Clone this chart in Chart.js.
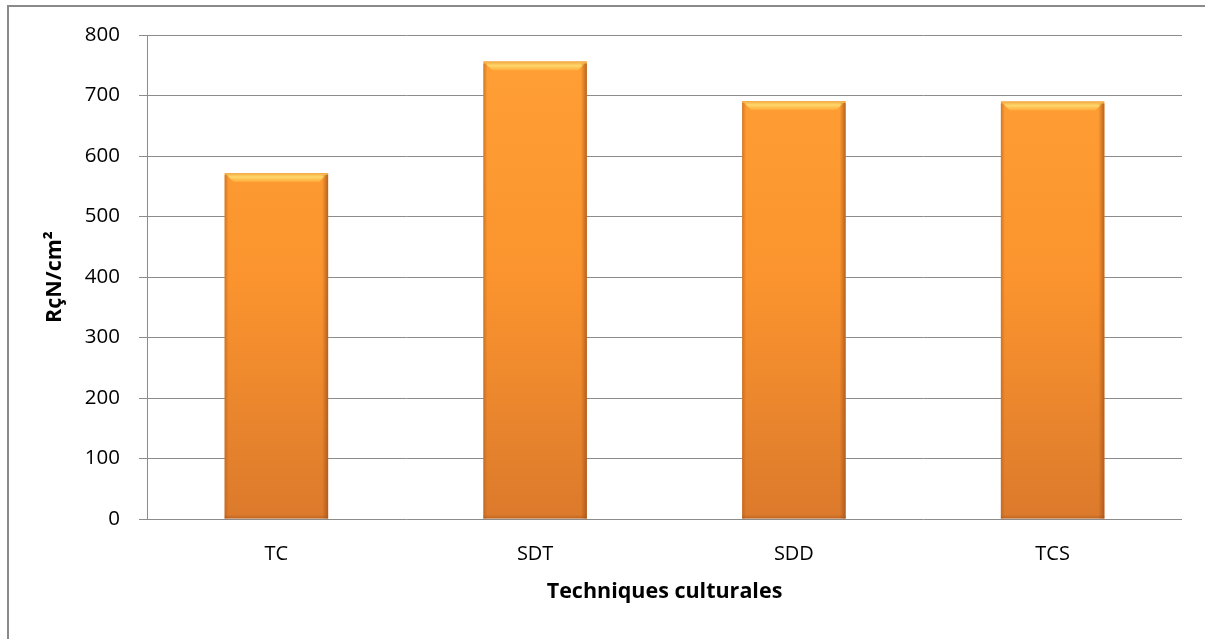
<!DOCTYPE html>
<html>
<head>
<meta charset="utf-8">
<script src="https://cdn.jsdelivr.net/npm/chart.js@4/dist/chart.umd.min.js"></script>
<style>
  html, body { margin: 0; padding: 0; background: #fff; }
  #wrap { width: 1205px; height: 639px; position: relative; }
</style>
</head>
<body>
<div id="wrap"><canvas id="rcChart"></canvas></div>
<script>
// Données
const categories = ['TC', 'SDT', 'SDD', 'TCS'];
const resistance = [572, 756, 691, 690];
const yTicks = [0, 100, 200, 300, 400, 500, 600, 700, 800];

const gridColor = '#8c8c8c';
const fontFamily = "'Open Sans', 'Liberation Sans', sans-serif";

// Cadre du graphique (bord gauche et haut)
const framePlugin = {
    id: 'frame',
    beforeDraw(chart) {
        const ctx = chart.ctx;
        ctx.save();
        ctx.fillStyle = '#fff';
        ctx.fillRect(0, 0, chart.width, chart.height);
        ctx.strokeStyle = '#8a8a8a';
        ctx.lineWidth = 2;
        ctx.beginPath();
        ctx.moveTo(8, chart.height);
        ctx.lineTo(8, 6);
        ctx.lineTo(chart.width, 6);
        ctx.stroke();
        ctx.restore();
    }
};

// Effet biseauté sur le haut et les côtés des barres
const bevelPlugin = {
    id: 'bevel',
    afterDatasetsDraw(chart) {
        const ctx = chart.ctx;
        const meta = chart.getDatasetMeta(0);
        ctx.save();
        meta.data.forEach(bar => {
            const left = bar.x - bar.width / 2;
            const right = bar.x + bar.width / 2;
            const top = bar.y;
            const bottom = bar.base;
            const b = 9;

            // bande supérieure claire
            const gTop = ctx.createLinearGradient(0, top, 0, top + b);
            gTop.addColorStop(0, '#f2a842');
            gTop.addColorStop(0.45, '#ffd76a');
            gTop.addColorStop(1, '#ffaa38');
            ctx.fillStyle = gTop;
            ctx.beginPath();
            ctx.moveTo(left, top);
            ctx.lineTo(right, top);
            ctx.lineTo(right - b, top + b);
            ctx.lineTo(left + b, top + b);
            ctx.closePath();
            ctx.fill();

            // côté gauche
            const gL = ctx.createLinearGradient(left, 0, left + 4, 0);
            gL.addColorStop(0, 'rgba(180,95,30,0.6)');
            gL.addColorStop(1, 'rgba(180,95,30,0)');
            ctx.fillStyle = gL;
            ctx.fillRect(left, top + 2, 4, bottom - top - 2);

            // côté droit
            const gR = ctx.createLinearGradient(right - 6, 0, right, 0);
            gR.addColorStop(0, 'rgba(160,80,25,0)');
            gR.addColorStop(1, 'rgba(160,80,25,0.75)');
            ctx.fillStyle = gR;
            ctx.fillRect(right - 6, top + 2, 6, bottom - top - 2);

            // bas
            const gB = ctx.createLinearGradient(0, bottom - 4, 0, bottom);
            gB.addColorStop(0, 'rgba(160,80,25,0)');
            gB.addColorStop(1, 'rgba(160,80,25,0.5)');
            ctx.fillStyle = gB;
            ctx.fillRect(left, bottom - 4, right - left, 4);
        });
        ctx.restore();
    }
};

function barGradient(context) {
    const area = context.chart.chartArea;
    if (!area) return '#f7902a';
    const g = context.chart.ctx.createLinearGradient(0, area.top, 0, area.bottom);
    g.addColorStop(0, '#ffa035');
    g.addColorStop(0.5, '#fb942e');
    g.addColorStop(1, '#dc7a2c');
    return g;
}

new Chart(document.getElementById('rcChart'), {
    type: 'bar',
    data: {
        labels: categories,
        datasets: [{
            label: 'RçN/cm²',
            data: resistance,
            backgroundColor: barGradient,
            borderWidth: 0,
            barPercentage: 0.4,
            categoryPercentage: 1.0
        }]
    },
    options: {
        responsive: true,
        maintainAspectRatio: false,
        animation: false,
        layout: {
            padding: { left: 8, top: 35, right: 23, bottom: 0 }
        },
        plugins: {
            legend: { display: false },
            tooltip: { enabled: false }
        },
        scales: {
            x: {
                grid: { display: false, drawTicks: false },
                border: { display: false },
                ticks: {
                    color: '#000',
                    padding: 23,
                    font: { family: fontFamily, size: 20 }
                },
                title: {
                    display: true,
                    text: 'Techniques culturales',
                    color: '#000',
                    font: { family: fontFamily, size: 21.5, weight: 'bold' },
                    padding: { top: 0, bottom: 34 }
                },
                afterFit(scale) {
                    scale.height = 120;
                }
            },
            y: {
                min: 0,
                max: 800,
                afterBuildTicks(scale) {
                    scale.ticks = yTicks.map(v => ({ value: v }));
                },
                grid: {
                    color: gridColor,
                    lineWidth: 1,
                    tickLength: 8
                },
                border: { display: true, color: gridColor, width: 1 },
                ticks: {
                    color: '#000',
                    padding: 19,
                    font: { family: fontFamily, size: 20.5 }
                },
                title: {
                    display: true,
                    text: 'RçN/cm²',
                    color: '#000',
                    font: { family: fontFamily, size: 21.5, weight: 'bold' },
                    padding: { top: 34, bottom: 0 }
                },
                afterFit(scale) {
                    scale.width = 139;
                }
            }
        }
    },
    plugins: [framePlugin, bevelPlugin]
});
</script>
</body>
</html>
